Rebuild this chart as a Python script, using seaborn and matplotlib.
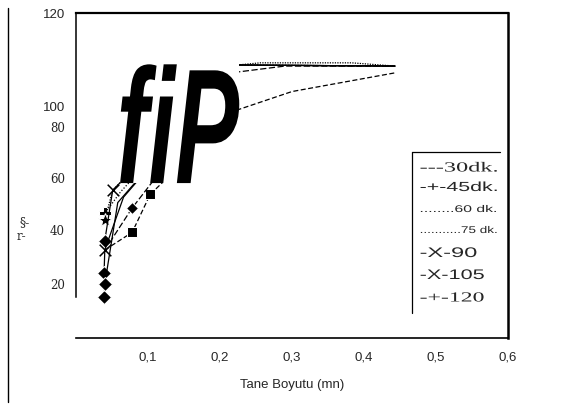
import matplotlib
matplotlib.use("Agg")
import matplotlib.pyplot as plt
import seaborn as sns
import pandas as pd
from matplotlib.patheffects import AbstractPathEffect
from matplotlib.transforms import Affine2D
from matplotlib.path import Path
from matplotlib.lines import Line2D
from matplotlib.colors import to_rgba

# Grain size (mm) and cumulative percent passing for each grinding time
grain_30 = [0.040, 0.078, 0.103, 0.224, 0.300, 0.443]
pass_30 = [32.5, 39.0, 53.0, 84.2, 91.0, 97.9]
grain_45 = [0.040, 0.078, 0.224, 0.290, 0.443]
pass_45 = [32.5, 48.0, 98.2, 100.4, 100.4]
grain_60 = [0.040, 0.062, 0.224, 0.443]
pass_60 = [46.0, 54.0, 100.8, 100.4]
grain_75 = [0.040, 0.051, 0.224, 0.256, 0.383, 0.443]
pass_75 = [43.6, 54.6, 100.8, 101.6, 101.6, 100.4]
grain_90 = [0.040, 0.051, 0.224, 0.443]
pass_90 = [36.0, 54.6, 100.8, 100.4]
grain_105 = [0.039, 0.040, 0.066, 0.224, 0.443]
pass_105 = [24.0, 32.5, 52.0, 100.8, 100.4]
grain_120 = [0.039, 0.040, 0.058, 0.224, 0.443]
pass_120 = [15.0, 20.0, 50.0, 100.8, 100.4]

series_labels = ["---30dk.", "-+-45dk.", "........60 dk.", "...........75 dk.",
                 "-X-90", "-X-105", "-+-120"]

x_ticks = [0.1, 0.2, 0.3, 0.4, 0.5, 0.6]
x_tick_labels = ["0,1", "0,2", "0,3", "0,4", "0,5", "0,6"]
y_ticks = [20, 40, 59, 78, 85.5, 120]
y_tick_labels = ["20", "40", "60", "80", "100", "120"]

x_label = "Tane Boyutu (mn)"
y_label_top = "§-"
y_label_bottom = "r-"
stamp = "fiP"


class HScale(AbstractPathEffect):
    """Scale glyph outlines horizontally about their left edge, optionally
    painting a backdrop rectangle behind them first."""

    def __init__(self, sx, backdrop=None):
        super().__init__()
        self.sx = sx
        self.backdrop = backdrop

    def draw_path(self, renderer, gc, tpath, affine, rgbFace=None):
        x0 = tpath.get_extents(affine).x0
        aff = affine + Affine2D().translate(-x0, 0).scale(self.sx, 1).translate(x0, 0)
        if self.backdrop is not None:
            bb = tpath.get_extents(aff)
            gc0 = renderer.new_gc()
            gc0.copy_properties(gc)
            gc0.set_linewidth(0)
            rect_aff = Affine2D().scale(bb.width, bb.height).translate(bb.x0, bb.y0)
            renderer.draw_path(gc0, Path.unit_rectangle(), rect_aff,
                               to_rgba(self.backdrop))
            gc0.restore()
        renderer.draw_path(gc, tpath, aff, rgbFace)


sns.set_style("white")
plt.rcParams["font.family"] = ["Liberation Sans", "DejaVu Sans"]

W, H = 571, 412
fig = plt.figure(figsize=(W / 100, H / 100), dpi=100)
ax = fig.add_axes([76 / W, 1 - 338 / H, 432 / W, 325 / H])

series = [
    (grain_30, pass_30, dict(linestyle=(0, (4, 2)), marker="s", markersize=6.5, markevery=[1, 2])),
    (grain_45, pass_45, dict(linestyle=(0, (5, 2)), marker="D", markersize=6.5, markevery=[1])),
    (grain_60, pass_60, dict(linestyle=(0, (1, 1.5)), marker="P", markersize=8, markevery=[0])),
    (grain_75, pass_75, dict(linestyle=(0, (1, 1)), marker="*", markersize=10, markevery=[0])),
    (grain_90, pass_90, dict(linestyle="-", marker="D", markersize=7, markevery=[0])),
    (grain_105, pass_105, dict(linestyle="-", marker="D", markersize=7, markevery=[0])),
    (grain_120, pass_120, dict(linestyle="-", marker="D", markersize=7.5, markevery=[0, 1])),
]
for (gx, gy, style), lab in zip(series, series_labels):
    df = pd.DataFrame({"grain": gx, "passing": gy})
    sns.lineplot(data=df, x="grain", y="passing", ax=ax, sort=False, estimator=None,
                 color="black", linewidth=0.9, zorder=2, label=lab, legend=False, **style)

# cross markers on the 90 and 105 minute curves
sns.scatterplot(x=[grain_90[1], grain_105[1]], y=[pass_90[1], pass_105[1]], ax=ax,
                marker="x", s=70, color="black", linewidth=1.1, zorder=3, legend=False)

ax.set_xlim(0, 0.6)
ax.set_ylim(0, 120)
ax.set_xlabel(x_label, fontsize=9.5, labelpad=11)
ax.set_ylabel("")
ax.set_xticks(x_ticks, x_tick_labels, fontsize=9.5)
ax.set_yticks(y_ticks, y_tick_labels)
ax.tick_params(axis="x", length=0, pad=10)
ax.tick_params(axis="y", direction="in", length=3, width=0.8, pad=8)
for t in ax.get_yticklabels():
    if t.get_text() in ("100", "120"):
        t.set_fontfamily(["Liberation Sans"])
        t.set_fontsize(9.5)
    else:
        t.set_fontfamily(["DejaVu Serif"])
        t.set_fontsize(8.5)

for side, lw in (("top", 1.6), ("right", 1.8), ("bottom", 1.2), ("left", 1.1)):
    ax.spines[side].set_visible(True)
    ax.spines[side].set_color("black")
    ax.spines[side].set_linewidth(lw)
ax.spines["left"].set_bounds(15, 120)

# large italic stamp lying over the steep part of the curves
ax.text(0.053, 57.2, stamp, fontsize=118, style="italic", weight="bold",
        family=["Liberation Sans"], ha="left", va="baseline", color="black", zorder=5,
        path_effects=[HScale(0.585, backdrop="white")])

# key box: only its left and top edges are drawn
ax.add_line(Line2D([0.778, 0.778], [0.077, 0.572], transform=ax.transAxes,
                   color="black", linewidth=0.9, clip_on=False))
ax.add_line(Line2D([0.778, 0.981], [0.572, 0.572], transform=ax.transAxes,
                   color="black", linewidth=0.9, clip_on=False))
key_y = [168, 188, 209, 230, 253, 275, 298]
key_font = [(["Liberation Serif"], 10, 1.75), (["Liberation Sans"], 9.5, 1.62),
            (["Liberation Sans"], 7, 1.62), (["Liberation Sans"], 7, 1.39),
            (["Liberation Sans"], 10, 1.7), (["Liberation Sans"], 10, 1.56),
            (["Liberation Serif"], 10, 1.71)]
for lab, yy, (fam, fs, sx) in zip(series_labels, key_y, key_font):
    ax.text((420 - 76) / 432, (338 - yy) / 325, lab, transform=ax.transAxes,
            family=fam, fontsize=fs, ha="left", va="center",
            path_effects=[HScale(sx)])

# rotated-axis caption pieces and page rule on the left
fig.text(20 / W, 1 - 223 / H, y_label_top, family=["DejaVu Serif"], fontsize=9,
         ha="left", va="center")
fig.text(17 / W, 1 - 236 / H, y_label_bottom, family=["DejaVu Serif"], fontsize=8.5,
         ha="left", va="center")
fig.add_artist(Line2D([8 / W, 8 / W], [1 - 402 / H, 1 - 8 / H], transform=fig.transFigure,
                      color="black", linewidth=1.0))

fig.savefig("out.png", dpi=100)
